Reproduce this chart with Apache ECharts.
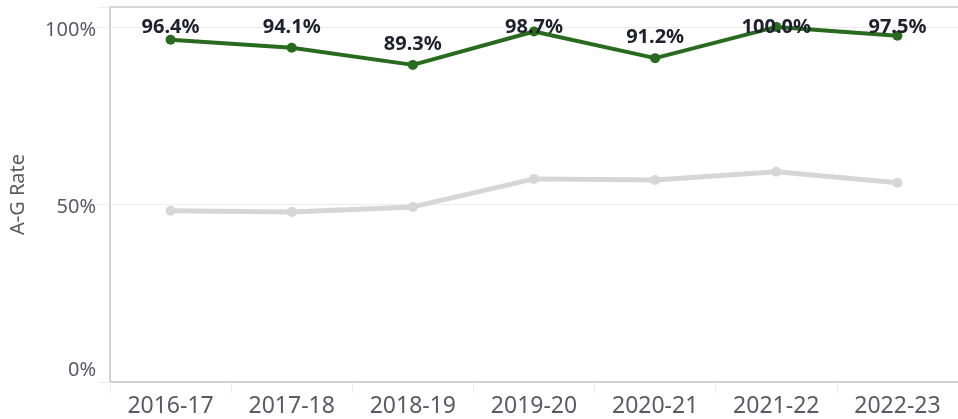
<!DOCTYPE html>
<html>
<head>
<meta charset="utf-8">
<script src="https://cdn.jsdelivr.net/npm/echarts@6/dist/echarts.min.js"></script>
<style>
    html, body { margin: 0; padding: 0; background: #ffffff; }
    #chart { width: 958px; height: 419px; }
</style>
</head>
<body>
<div id="chart"></div>
<script>
    // school years on the x axis
    var years = ['2016-17', '2017-18', '2018-19', '2019-20', '2020-21', '2021-22', '2022-23'];
    // A-G rate, school (green, labelled)
    var schoolRate = [96.4, 94.1, 89.3, 98.7, 91.2, 100.0, 97.5];
    // A-G rate, comparison (grey, no labels)
    var compareRate = [48.2, 47.9, 49.3, 57.2, 56.9, 59.2, 56.1];
    var yTicks = [0, 50, 100];

    var font = 'Noto Sans';
    var chart = echarts.init(document.getElementById('chart'));

    var options = {
        animation: false,
        grid: {
            left: 110,
            right: -4,
            top: 7,
            bottom: 37
        },
        xAxis: [
            {
                type: 'category',
                data: years,
                boundaryGap: true,
                axisLine: { onZero: false, lineStyle: { color: '#d0d0d0', width: 2 } },
                axisTick: { show: true, length: 11, lineStyle: { color: '#ececec' } },
                axisLabel: {
                    color: '#5a5a66',
                    fontFamily: font,
                    fontSize: 23,
                    margin: 13
                },
                splitLine: { show: false }
            },
            {
                // thin line along the top of the plot
                type: 'category',
                data: years,
                position: 'top',
                axisLine: { show: true, onZero: false, lineStyle: { color: '#d6d6d6', width: 2 } },
                axisTick: { show: false },
                axisLabel: { show: false },
                splitLine: { show: false }
            }
        ],
        yAxis: {
            type: 'value',
            min: 0,
            max: 105.6,
            interval: 50,
            name: 'A-G Rate',
            nameLocation: 'middle',
            nameGap: 82,
            nameTextStyle: { color: '#5a5a66', fontFamily: font, fontSize: 20 },
            axisLine: { show: true, lineStyle: { color: '#d0d0d0', width: 2 } },
            axisTick: { show: true, length: 12, lineStyle: { color: '#ececec' } },
            axisLabel: {
                color: '#5a5a66',
                fontFamily: font,
                fontSize: 20,
                margin: 14,
                padding: [6, 0, 0, 0],
                formatter: function (v) {
                    if (yTicks.indexOf(v) < 0) return '';
                    if (v === 0) return '{low|0%}';
                    return v + '%';
                },
                rich: {
                    low: { color: '#5a5a66', fontFamily: font, fontSize: 20, padding: [0, 0, 30, 0] }
                }
            },
            splitLine: {
                show: true,
                lineStyle: { color: '#ececec', width: 1 }
            }
        },
        series: [
            {
                name: 'Comparison',
                type: 'line',
                data: compareRate,
                symbol: 'circle',
                symbolSize: 10,
                z: 1,
                lineStyle: { color: '#d6d6d6', width: 5 },
                itemStyle: { color: '#d6d6d6' },
                label: { show: false }
            },
            {
                name: 'School',
                type: 'line',
                data: schoolRate,
                symbol: 'circle',
                symbolSize: 10,
                z: 2,
                lineStyle: { color: '#286b1e', width: 4 },
                itemStyle: { color: '#286b1e' },
                label: {
                    show: true,
                    position: 'top',
                    distance: 6,
                    color: '#1f1f2e',
                    fontFamily: font,
                    fontWeight: 'bold',
                    fontSize: 20,
                    formatter: function (p) {
                        return p.value.toFixed(1) + '%';
                    }
                },
                // keep labels inside the plot area, like the original
                labelLayout: function (params) {
                    var r = params.labelRect;
                    return { dy: Math.max(0, 17 - r.y) };
                }
            }
        ]
    };

    chart.setOption(options);
</script>
</body>
</html>
